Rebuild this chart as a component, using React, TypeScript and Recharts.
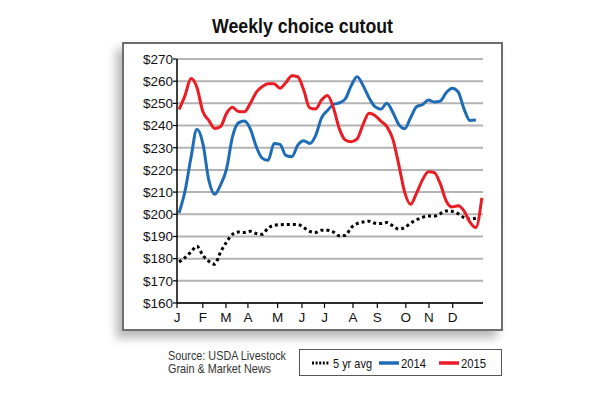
import { LineChart, Line, XAxis, YAxis, CartesianGrid } from 'recharts'

// Boxed beef choice cutout, $/cwt, one value per week of the year
const avg5yr = [
  178.5, 180.5, 183, 185.6, 181.5, 178.8, 177.5, 183, 187.5, 191,
  192, 191.8, 192.3, 191.3, 191, 193.8, 195, 195.3, 195.4, 195.4,
  195.4, 194, 192.3, 191.8, 192.8, 192.8, 192, 190.3, 190.5, 194,
  195.8, 196.5, 196.9, 196, 195.8, 196.3, 194.8, 193.3, 194, 196,
  197.5, 198.6, 199.2, 199.2, 200.3, 201.5, 201.3, 200.3, 198.5, 197.8,
  198.2,
]

const cutout2014 = [
  200.6, 210.5, 225.5, 238.3, 232, 215.5, 209, 213.3, 220.5, 235,
  241.2, 242, 238.5, 230.5, 225.3, 224.3, 231.9, 231.5, 226.5, 226,
  231.2, 233.2, 231.9, 235.5, 243.5, 246.8, 249.5, 250.2, 252, 258,
  262, 258, 252.5, 248.5, 247.4, 250, 246, 240.5, 238.5, 243.5,
  248.5, 249.4, 251.5, 250.6, 251, 254.8, 256.8, 255.2, 247.5, 242.3,
  242.5,
]

const cutout2015 = [
  247.3, 253.5, 261.2, 257.3, 246.3, 242.3, 238.7, 239.6, 245.5, 248.2,
  246.3, 246.2, 250, 255, 257.5, 258.8, 258.8, 256.8, 259.4, 262.5,
  262, 256, 248, 247.5, 251.5, 253.5, 248, 238.5, 233.5, 232.7,
  234, 240.5, 245.5, 244.5, 242, 239.5, 234, 222.5, 210, 204.5,
  209.5, 215.5, 219.2, 218.8, 213.8, 206, 203.3, 203.8, 201.5, 196.5,
  194, 207.4,
]

// month starts, in weeks from the first week of January
const monthTicks = [-0.35, 4, 7.9, 11.6, 16.6, 20.7, 24.5, 29.3, 33.4, 38.2, 42.1, 46.1]
const monthLabels = ['J', 'F', 'M', 'A', 'M', 'J', 'J', 'A', 'S', 'O', 'N', 'D']
const priceTicks = [160, 170, 180, 190, 200, 210, 220, 230, 240, 250, 260, 270]

const data = cutout2015.map((v, i) => ({
  week: i,
  avg: avg5yr[i] ?? null,
  y2014: cutout2014[i] ?? null,
  y2015: v,
}))

const BLUE = '#1f6cb6'
const RED = '#ec1c24'
const sans = '"Liberation Sans", Arial, sans-serif'

function monthLabel(v: number) {
  const i = monthTicks.indexOf(v)
  return i >= 0 ? monthLabels[i] : ''
}

// condensed-looking text: squeeze regular glyphs into a fixed width
function Squeezed({ x, y, w, size, bold, fill = '#111', children }: any) {
  return (
    <text
      x={x}
      y={y}
      textLength={w}
      lengthAdjust="spacingAndGlyphs"
      fontFamily={sans}
      fontSize={size}
      fontWeight={bold ? 700 : 400}
      fill={fill}
    >
      {children}
    </text>
  )
}

export default function App() {
  return (
    <div style={{ position: 'absolute', left: 0, top: 0, width: 610, height: 405, background: '#fff' }}>
      {/* framed panel with a soft drop shadow */}
      <div
        style={{
          position: 'absolute', left: 122, top: 42, width: 381, height: 289,
          boxSizing: 'border-box', border: '2px solid #6e6e6e',
          boxShadow: '-6px 7px 9px rgba(0,0,0,0.28)', background: '#fff',
        }}
      />

      <div style={{ position: 'absolute', left: 0, top: 0 }}>
        <LineChart
          width={610}
          height={405}
          data={data}
          margin={{ top: 59, right: 127, left: 127, bottom: 72 }}
        >
          <CartesianGrid vertical={false} stroke="#b3b3b3" strokeWidth={2} />
          <XAxis
            dataKey="week"
            type="number"
            domain={[-0.35, 51.2]}
            ticks={monthTicks}
            tickFormatter={monthLabel}
            interval={0}
            height={30}
            tickSize={5}
            tickMargin={4}
            axisLine={{ stroke: '#000', strokeWidth: 1.5 }}
            tickLine={{ stroke: '#000', strokeWidth: 1.2 }}
            tick={{ fill: '#111', fontSize: 13.5, fontFamily: sans }}
          />
          <YAxis
            type="number"
            domain={[160, 270]}
            ticks={priceTicks}
            interval={0}
            width={50}
            tickSize={4}
            tickMargin={0}
            tickFormatter={(v: number) => `$${v}`}
            axisLine={{ stroke: '#000', strokeWidth: 1.5 }}
            tickLine={{ stroke: '#000', strokeWidth: 1.2 }}
            tick={{ fill: '#111', fontSize: 13.5, fontFamily: sans }}
          />
          <Line
            dataKey="avg"
            type="monotone"
            stroke="#000"
            strokeWidth={3}
            strokeDasharray="3 3"
            dot={false}
            isAnimationActive={false}
          />
          <Line
            dataKey="y2014"
            type="monotone"
            stroke={BLUE}
            strokeWidth={3}
            dot={false}
            isAnimationActive={false}
          />
          <Line
            dataKey="y2015"
            type="monotone"
            stroke={RED}
            strokeWidth={3}
            dot={false}
            isAnimationActive={false}
          />
        </LineChart>
      </div>

      {/* title, source note and legend */}
      <svg width={610} height={405} style={{ position: 'absolute', left: 0, top: 0, pointerEvents: 'none' }}>
        <Squeezed x={212} y={33} w={181} size={21} bold>Weekly choice cutout</Squeezed>

        <Squeezed x={168} y={359.5} w={118} size={13} fill="#333">Source: USDA Livestock</Squeezed>
        <Squeezed x={168} y={373} w={103} size={13} fill="#333">Grain &amp; Market News</Squeezed>

        <rect x={299.5} y={349.5} width={202} height={26} fill="#fff" stroke="#555" />
        <line x1={312} y1={363} x2={330} y2={363} stroke="#000" strokeWidth={3} strokeDasharray="2 1.6" />
        <Squeezed x={333} y={367.5} w={39} size={13}>5 yr avg</Squeezed>
        <line x1={379} y1={363} x2={399} y2={363} stroke={BLUE} strokeWidth={3.5} />
        <Squeezed x={401} y={367.5} w={25} size={13}>2014</Squeezed>
        <line x1={439} y1={363} x2={459} y2={363} stroke={RED} strokeWidth={3.5} />
        <Squeezed x={461} y={367.5} w={25} size={13}>2015</Squeezed>
      </svg>
    </div>
  )
}
